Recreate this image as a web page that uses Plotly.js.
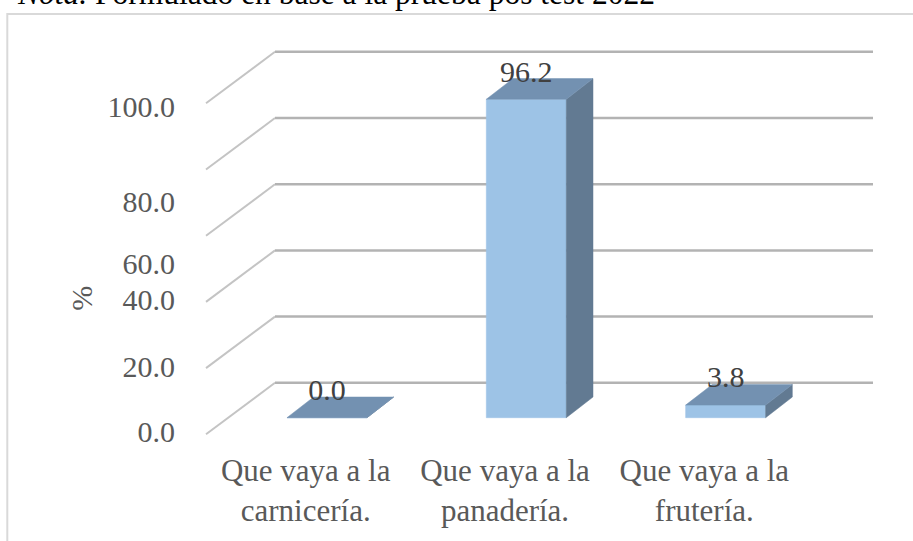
<!DOCTYPE html>
<html><head><meta charset="utf-8">
<script src="https://cdn.plot.ly/plotly-3.0.1.min.js"></script>
<style>html,body{margin:0;padding:0;background:#fff}#chart{width:913px;height:541px}</style>
</head><body><div id="chart"></div>
<script>
// ---- data ----
const categories = ['Que vaya a la<br>carnicería.', 'Que vaya a la<br>panadería.', 'Que vaya a la<br>frutería.'];
const values = [0.0, 96.2, 3.8];
const dataLabels = ['0.0', '96.2', '3.8'];
const gridValues = [0, 20, 40, 60, 80, 100];
const tickLabels = ['0.0', '20.0', '40.0', '60.0', '80.0', '100.0'];
const noteText = '<i>Nota.</i> Formulado en base a la prueba pos test 2022';

// ---- layout geometry (pixels -> axis units) ----
const W = 913, H = 541;
const pxX = 199.33, x0px = 305.67;   // px per category, pixel of category 0 (front plane)
const pxY = 3.31, y0px = 434.3;      // px per value unit, pixel of value 0 (front plane)
const ux = p => p / pxX, uy = p => p / pxY;
// where the y tick labels sit in the reference (Excel 3-D placement)
const tickLabelPos = [0.8, 20.4, 40.6, 51.7, 70.3, 99.0];

const backDX = ux(69), backDY = uy(51.5);
const backRight = (873 - x0px) / pxX;
const frontLeft = -0.5;
const barOffX = ux(21.3), barOffY = uy(16.6);
const barW = ux(80);
const depX = ux(26.7), depY = uy(20.7);

const colFront = '#9DC3E6', colTop = '#7391B1', colSide = '#627A92';

const traces = [];
// grid diagonals and back wall lines
const dX = [], dY = [], hX = [], hY = [];
gridValues.forEach(g => {
  dX.push(frontLeft, frontLeft + backDX, null);
  dY.push(g, g + backDY, null);
  hX.push(frontLeft + backDX, backRight, null);
  hY.push(g + backDY, g + backDY, null);
});
traces.push({x: dX, y: dY, mode: 'lines', line: {color: '#c4c4c4', width: 2}, hoverinfo: 'skip'});
traces.push({x: hX, y: hY, mode: 'lines', line: {color: '#b3b3b3', width: 2.5}, hoverinfo: 'skip'});

const lx = [], ly = [];
values.forEach((v, i) => {
  const xl = i + barOffX - barW / 2, xr = i + barOffX + barW / 2;
  const b = barOffY, t = v + barOffY;
  // front
  traces.push({x: [xl, xr, xr, xl, xl], y: [b, b, t, t, b], mode: 'lines', fill: 'toself',
    fillcolor: colFront, line: {width: 0.5, color: colFront}, hoverinfo: 'skip'});
  // side
  traces.push({x: [xr, xr + depX, xr + depX, xr, xr], y: [b, b + depY, t + depY, t, b], mode: 'lines', fill: 'toself',
    fillcolor: colSide, line: {width: 0.5, color: colSide}, hoverinfo: 'skip'});
  // top
  traces.push({x: [xl, xr, xr + depX, xl + depX, xl], y: [t, t, t + depY, t + depY, t], mode: 'lines', fill: 'toself',
    fillcolor: colTop, line: {width: 0.5, color: colTop}, hoverinfo: 'skip'});
  lx.push(i + barOffX);
  ly.push(t + depY + uy(4.5));
});
traces.push({x: lx, y: ly, mode: 'text', text: dataLabels, textposition: 'middle center',
  textfont: {family: 'Liberation Serif', size: 30, color: '#404040'}, hoverinfo: 'skip'});

const layout = {
  width: W, height: H,
  margin: {l: 0, r: 0, t: 0, b: 0},
  paper_bgcolor: '#ffffff', plot_bgcolor: 'rgba(0,0,0,0)',
  showlegend: false, hovermode: false,
  font: {family: 'Liberation Serif', color: '#595959'},
  xaxis: {
    domain: [0, 1], range: [(0 - x0px) / pxX, (W - x0px) / pxX],
    anchor: 'free', position: 1 - y0px / H,
    tickmode: 'array', tickvals: [0, 1, 2], ticktext: categories,
    ticks: 'outside', ticklen: 8, tickcolor: 'rgba(0,0,0,0)',
    tickfont: {family: 'Liberation Serif', size: 31, color: '#595959'},
    showgrid: false, zeroline: false, showline: false, fixedrange: true
  },
  yaxis: {
    domain: [0, 1], range: [(y0px - H) / pxY, y0px / pxY],
    anchor: 'free', position: (x0px - 0.5 * pxX) / W,
    tickmode: 'array', tickvals: tickLabelPos, ticktext: tickLabels,
    ticks: 'outside', ticklen: 25, tickcolor: 'rgba(0,0,0,0)',
    tickfont: {family: 'Liberation Serif', size: 30, color: '#595959'},
    showgrid: false, zeroline: false, showline: false, fixedrange: true
  },
  shapes: [{type: 'rect', xref: 'paper', yref: 'paper', x0: 7.3 / W, x1: 1.02, y0: -0.02, y1: 1 - 14 / H,
    line: {color: '#d9d9d9', width: 2}, fillcolor: 'rgba(0,0,0,0)', layer: 'below'}],
  annotations: [
    {text: '%', xref: 'paper', yref: 'paper', x: 80.7 / W, y: 1 - 298 / H, xanchor: 'center', yanchor: 'middle',
     textangle: -90, showarrow: false, font: {family: 'Liberation Serif', size: 30, color: '#595959'}},
    {text: noteText, xref: 'paper', yref: 'paper', x: 15 / W, y: 1 + 7 / H, xanchor: 'left', yanchor: 'middle',
     showarrow: false, font: {family: 'Liberation Serif', size: 31.5, color: '#000000'}}
  ]
};

Plotly.newPlot('chart', traces, layout, {staticPlot: true, displayModeBar: false});
</script>
</body></html>
